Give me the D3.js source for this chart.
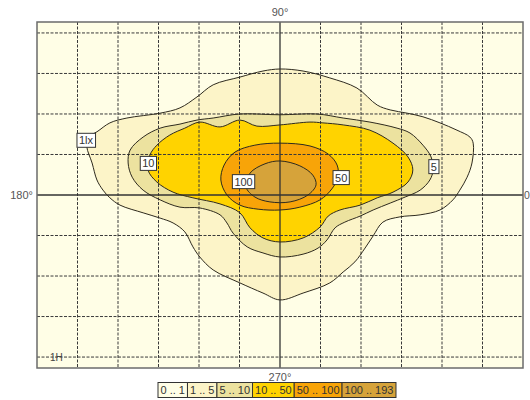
<!DOCTYPE html>
<html>
<head>
<meta charset="utf-8">
<script src="https://cdn.jsdelivr.net/npm/d3@7"></script>
<style>
  html, body { margin: 0; padding: 0; background: #fff; }
  svg { display: block; }
  text { font-family: "Liberation Sans", Arial, sans-serif; }
</style>
</head>
<body>
<svg id="chart" width="530" height="400"></svg>
<script>
// ---- data (grid units; 1 unit = one grid cell, origin at centre) ----
const bandLabels = ["0 .. 1", "1 .. 5", "5 .. 10", "10 .. 50", "50 .. 100", "100 .. 193"];
const bandColors = ["#FFFEE6", "#FCF4C8", "#ECE29F", "#FFD300", "#F8A408", "#D6A33A"];

const contour1 = [[0,3.11],[0.57,3.06],[1.23,2.89],[1.90,2.64],[2.40,2.22],[2.72,2.10],[3.14,2.02],[3.53,1.93],[3.95,1.78],[4.37,1.60],[4.69,1.43],[4.77,1.28],[4.74,0.79],[4.62,0.44],[4.44,0.12],[4.27,-0.12],[3.95,-0.37],[3.46,-0.49],[2.96,-0.54],[2.54,-0.67],[2.30,-1.01],[2.10,-1.31],[1.85,-1.65],[1.56,-1.90],[1.23,-2.17],[0.57,-2.42],[0,-2.59],[-0.42,-2.42],[-0.99,-2.17],[-1.65,-1.85],[-1.98,-1.53],[-2.15,-1.28],[-2.35,-0.91],[-2.64,-0.69],[-2.96,-0.57],[-3.38,-0.44],[-3.95,-0.25],[-4.20,-0.07],[-4.37,0.12],[-4.52,0.37],[-4.64,0.79],[-4.77,1.19],[-4.74,1.43],[-4.52,1.56],[-4.20,1.78],[-3.78,1.90],[-2.96,2.02],[-2.47,2.15],[-2.05,2.42],[-1.65,2.72],[-0.99,2.91],[-0.42,3.06]];
const contour5 = [[0,1.98],[0.91,2.00],[1.56,1.90],[2.22,1.80],[2.89,1.65],[3.21,1.53],[3.53,1.23],[3.73,0.94],[3.78,0.62],[3.70,0.37],[3.46,0.12],[3.09,-0.05],[2.72,-0.20],[2.30,-0.37],[1.98,-0.52],[1.60,-0.67],[1.36,-0.81],[1.16,-1.11],[0.94,-1.31],[0.57,-1.46],[0,-1.53],[-0.42,-1.43],[-0.81,-1.28],[-1.16,-0.94],[-1.31,-0.69],[-1.48,-0.49],[-1.98,-0.32],[-2.47,-0.30],[-2.96,-0.12],[-3.38,0.12],[-3.65,0.44],[-3.75,0.79],[-3.70,1.11],[-3.38,1.43],[-2.96,1.65],[-2.47,1.75],[-2.05,1.85],[-1.65,1.90],[-0.99,2.00]];
const contour10 = [[0,1.73],[0.74,1.80],[1.06,1.78],[1.56,1.73],[2.22,1.60],[2.79,1.28],[3.16,0.94],[3.28,0.62],[3.16,0.32],[2.79,0.07],[2.40,-0.07],[1.98,-0.25],[1.48,-0.37],[1.19,-0.52],[0.99,-0.79],[0.57,-1.06],[0,-1.16],[-0.42,-1.06],[-0.74,-0.81],[-0.99,-0.44],[-1.48,-0.22],[-2.15,-0.07],[-2.64,0.07],[-3.04,0.32],[-3.26,0.62],[-3.21,0.99],[-3.04,1.23],[-2.72,1.48],[-2.35,1.65],[-1.98,1.80],[-1.48,1.68],[-0.99,1.85],[-0.57,1.70]];
const contour50 = [[0,1.28],[0.74,1.21],[1.19,1.01],[1.41,0.74],[1.43,0.44],[1.28,0.15],[0.99,-0.12],[0.49,-0.30],[0,-0.37],[-0.54,-0.35],[-0.99,-0.25],[-1.31,0],[-1.46,0.37],[-1.38,0.74],[-1.11,1.06],[-0.62,1.23]];
const contour100 = [[0,0.84],[0.49,0.72],[0.81,0.49],[0.89,0.25],[0.69,0],[0.25,-0.17],[-0.25,-0.17],[-0.62,-0.05],[-0.84,0.20],[-0.74,0.54],[-0.37,0.77]];
const contours = [contour1, contour5, contour10, contour50, contour100];

const contourLabels = ["1lx", "5", "10", "50", "100"];
const contourLabelAt = [[-4.79,1.35],[3.80,0.70],[-3.25,0.78],[1.51,0.43],[-0.90,0.33]];

const xTicks = d3.range(-6, 7);
const yTicks = d3.range(-4, 5);
const angleLabels = ["90°", "180°", "0", "270°"];
const heightLabel = "1H";
const heightAt = -4;

// ---- drawing ----
const svg = d3.select("#chart");
const x = d3.scaleLinear().domain([-6, 6]).range([37, 523]);
const y = d3.scaleLinear().domain([-4.27, 4.27]).range([368, 22]);
const [x0, x1] = x.range();
const [y1, y0] = y.range();

svg.append("rect").attr("x", x0).attr("y", y0).attr("width", x1 - x0).attr("height", y1 - y0)
  .attr("fill", bandColors[0]);

const line = d3.line().x(d => x(d[0])).y(d => y(d[1])).curve(d3.curveCatmullRomClosed.alpha(0.5));

svg.append("g").selectAll("path").data(contours).join("path")
  .attr("d", line)
  .attr("fill", (d, i) => bandColors[i + 1])
  .attr("stroke", "none");

// grid
const grid = svg.append("g");
grid.selectAll("line.v").data(xTicks.filter(t => t > -6 && t < 6)).join("line")
  .attr("x1", d => x(d)).attr("x2", d => x(d)).attr("y1", y0).attr("y2", y1)
  .attr("stroke", d => d === 0 ? "#333" : "#3a3a3a")
  .attr("stroke-width", d => d === 0 ? 1.3 : 1)
  .attr("stroke-dasharray", d => d === 0 ? null : "3,1.5");
grid.selectAll("line.h").data(yTicks).join("line")
  .attr("y1", d => y(d)).attr("y2", d => y(d)).attr("x1", x0).attr("x2", x1)
  .attr("stroke", d => d === 0 ? "#333" : "#3a3a3a")
  .attr("stroke-width", d => d === 0 ? 1.3 : 1)
  .attr("stroke-dasharray", d => d === 0 ? null : "3,1.5");

// contour strokes
svg.append("g").selectAll("path").data(contours).join("path")
  .attr("d", line)
  .attr("fill", "none")
  .attr("stroke", "#2e2a1e")
  .attr("stroke-width", 1);

// border
svg.append("rect").attr("x", x0).attr("y", y0).attr("width", x1 - x0).attr("height", y1 - y0)
  .attr("fill", "none").attr("stroke", "#6b6b6b").attr("stroke-width", 1.5);

// contour labels
const lab = svg.append("g").selectAll("g").data(contourLabels).join("g")
  .attr("transform", (d, i) => `translate(${x(contourLabelAt[i][0])},${y(contourLabelAt[i][1])})`);
lab.append("text").text(d => d)
  .attr("text-anchor", "middle").attr("dy", "0.36em")
  .attr("font-size", 11).attr("fill", "#333");
lab.each(function() {
  const g = d3.select(this);
  const bb = g.select("text").node().getBBox();
  g.insert("rect", "text")
    .attr("x", bb.x - 2).attr("y", -7).attr("width", bb.width + 4).attr("height", 14)
    .attr("fill", "#fff").attr("stroke", "#333").attr("stroke-width", 1);
});

// angle labels
svg.append("text").text(angleLabels[0]).attr("x", x(0)).attr("y", y0 - 6)
  .attr("text-anchor", "middle").attr("font-size", 11).attr("fill", "#555");
svg.append("text").text(angleLabels[1]).attr("x", x0 - 4).attr("y", y(0)).attr("dy", "0.35em")
  .attr("text-anchor", "end").attr("font-size", 11).attr("fill", "#555");
svg.append("text").text(angleLabels[2]).attr("x", x1 + 1).attr("y", y(0)).attr("dy", "0.35em")
  .attr("text-anchor", "start").attr("font-size", 10.5).attr("fill", "#555");
svg.append("text").text(angleLabels[3]).attr("x", x(0)).attr("y", y1 + 13)
  .attr("text-anchor", "middle").attr("font-size", 11).attr("fill", "#555");
svg.append("text").text(heightLabel).attr("x", x(-5.52)).attr("y", y(heightAt)).attr("dy", "0.35em")
  .attr("text-anchor", "middle").attr("font-size", 10).attr("fill", "#444");

// legend
const leg = svg.append("g");
const legItems = leg.selectAll("g").data(bandLabels).join("g");
legItems.append("text").text(d => d).attr("font-size", 11).attr("fill", "#333").attr("dy", "0.36em");
let cx = 158;
legItems.each(function(d, i) {
  const g = d3.select(this);
  const w = g.select("text").node().getComputedTextLength() + 5;
  g.attr("transform", `translate(${cx},390)`);
  g.select("text").attr("x", 2.5);
  g.insert("rect", "text").attr("x", 0).attr("y", -7.5).attr("width", w).attr("height", 15)
    .attr("fill", bandColors[i]).attr("stroke", "#333").attr("stroke-width", 1);
  cx += w;
});
</script>
</body>
</html>
